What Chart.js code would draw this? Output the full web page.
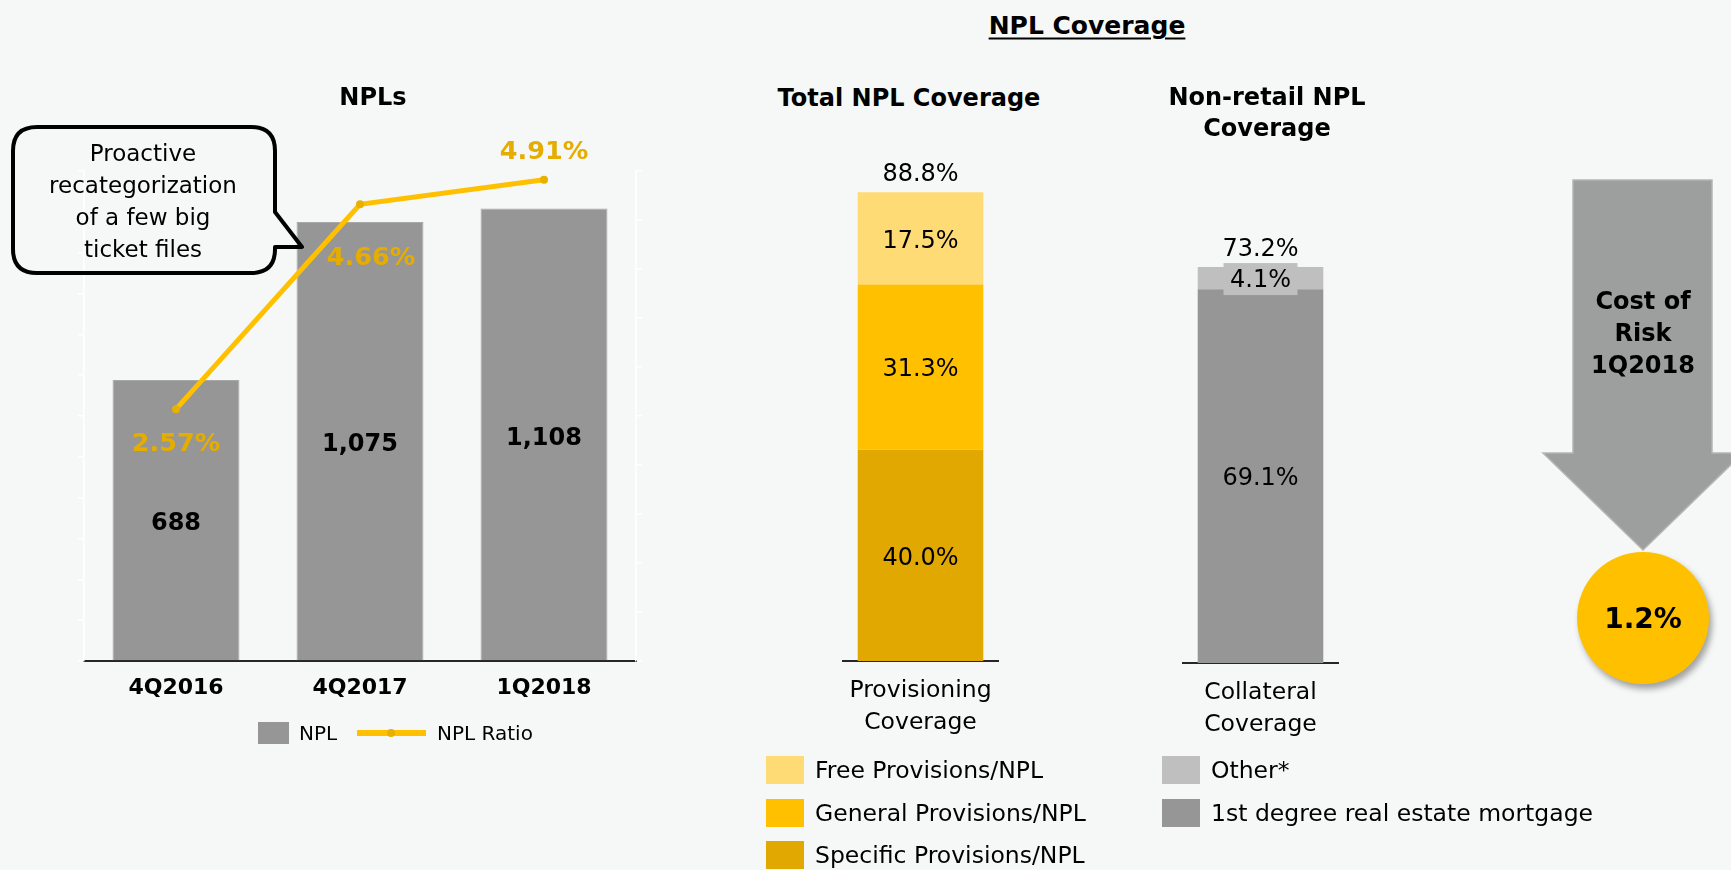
<!DOCTYPE html>
<html lang="en">
<head>
<meta charset="UTF-8" />
<title>NPLs and NPL Coverage</title>
<script src="https://cdn.jsdelivr.net/npm/chart.js@4.4.1/dist/chart.umd.min.js"></script>
<style>
  body { margin: 0; background: #f6f8f7; font-family: 'DejaVu Sans', sans-serif; color: #000; }
  #page { position: relative; width: 1731px; height: 870px; overflow: hidden; }
  canvas { position: absolute; }
  .t { position: absolute; transform: translate(-50%, -50%); white-space: nowrap; text-align: center; }
  .b { font-weight: bold; }
  .lg { position: absolute; display: flex; align-items: center; white-space: nowrap; }
  .sw { display: inline-block; }
  #overlay { position: absolute; left: 0; top: 0; pointer-events: none; }
</style>
</head>
<body>
<div id="page">
  <canvas id="npl" width="700" height="700" style="left:0;top:0"></canvas>
  <canvas id="total" width="157" height="620" style="left:842px;top:120px"></canvas>
  <canvas id="nonretail" width="157" height="630" style="left:1182px;top:110px"></canvas>

  <div class="t b" style="left:373px;top:97px;font-size:24px">NPLs</div>
  <div class="t b" style="left:1087px;top:25px;font-size:25px;text-decoration:underline;text-decoration-thickness:2px;text-underline-offset:4px">NPL Coverage</div>
  <div class="t b" style="left:909px;top:98px;font-size:24px">Total NPL Coverage</div>
  <div class="t b" style="left:1267px;top:113px;font-size:24px;line-height:31px">Non-retail NPL<br>Coverage</div>

  <svg id="overlay" width="1731" height="870">
    <!-- speech bubble -->
    <path d="M37 127 H251 Q275 127 275 151 V212 L302 247 L275 247 V249 Q275 273 251 273 H37 Q13 273 13 249 V151 Q13 127 37 127 Z"
          fill="none" stroke="#000" stroke-width="4" stroke-linejoin="round" />
    <!-- cost of risk arrow -->
    <polygon points="1573,180 1712,180 1712,453 1743,453 1643,550 1543,453 1573,453"
             fill="#9d9e9e" stroke="#b4b5b5" stroke-width="1.5" />
  </svg>
  <div class="t" style="left:143px;top:201px;font-size:23px;line-height:32px">Proactive<br>recategorization<br>of a few big<br>ticket files</div>

  <div class="t b" style="left:1643px;top:333px;font-size:24px;line-height:32px">Cost of<br>Risk<br>1Q2018</div>
  <div style="position:absolute;left:1577px;top:552px;width:132px;height:132px;border-radius:50%;background:#ffc000;box-shadow:3px 5px 6px rgba(0,0,0,0.35)"></div>
  <div class="t b" style="left:1643px;top:618px;font-size:28px">1.2%</div>

  <div id="legends"></div>
</div>

<script>
  // NPL stock (EUR m) and NPL ratio by quarter
  const quarters = ['4Q2016', '4Q2017', '1Q2018']
  const nplAmounts = [688, 1075, 1108]
  const nplRatios = [2.57, 4.66, 4.91]

  // total NPL coverage, split by provision type (%)
  const provisionCategory = [['Provisioning', 'Coverage']]
  const specificProvisions = [40.0]
  const generalProvisions = [31.3]
  const freeProvisions = [17.5]

  // non-retail NPL coverage by collateral (%)
  const collateralCategory = [['Collateral', 'Coverage']]
  const realEstateMortgage = [69.1]
  const otherCollateral = [4.1]

  const GOLD_TEXT = '#e6ac00'
  Chart.defaults.font.family = "'DejaVu Sans', sans-serif"
  Chart.defaults.color = '#000'

  // numbers written on the NPL bars and the ratio line
  const ratioOffsets = [[0, 35], [11, 54], [0, -27]]
  const nplLabels = {
    id: 'nplLabels',
    afterDatasetsDraw(chart) {
      const ctx = chart.ctx
      ctx.save()
      ctx.textAlign = 'center'
      ctx.textBaseline = 'middle'
      ctx.font = "bold 24px 'DejaVu Sans'"
      ctx.fillStyle = '#000'
      chart.getDatasetMeta(0).data.forEach((bar, i) => {
        ctx.fillText(nplAmounts[i].toLocaleString('en-US'), bar.x, (bar.y + bar.base) / 2 + 4)
      })
      ctx.font = "bold 25.5px 'DejaVu Sans'"
      ctx.fillStyle = GOLD_TEXT
      chart.getDatasetMeta(1).data.forEach((pt, i) => {
        const [dx, dy] = ratioOffsets[i]
        ctx.fillText(nplRatios[i].toFixed(2) + '%', pt.x + dx, pt.y + dy)
      })
      ctx.restore()
    },
  }

  // percentages inside each stacked segment, plus the total above the stack
  const stackLabels = {
    id: 'stackLabels',
    afterDatasetsDraw(chart) {
      const ctx = chart.ctx
      ctx.save()
      ctx.textAlign = 'center'
      ctx.textBaseline = 'middle'
      ctx.font = "24px 'DejaVu Sans'"
      let top = null
      let total = 0
      chart.data.datasets.forEach((ds, di) => {
        const el = chart.getDatasetMeta(di).data[0]
        const text = ds.data[0].toFixed(1) + '%'
        const y = (el.y + el.base) / 2 + 3
        total += ds.data[0]
        top = el.y
        if (ds.labelBg) {
          const w = ctx.measureText(text).width + 13
          ctx.fillStyle = ds.labelBg
          ctx.fillRect(el.x - w / 2, y - 18, w, 32)
        }
        ctx.fillStyle = '#000'
        ctx.fillText(text, el.x, y)
      })
      ctx.fillText(total.toFixed(1) + '%', chart.getDatasetMeta(0).data[0].x, top - 17)
      ctx.restore()
    },
  }

  const faintAxis = (min, max, step, width) => ({
    min: min,
    max: max,
    ticks: { stepSize: step, display: false },
    grid: { drawOnChartArea: false, color: '#ffffff', tickLength: 6, lineWidth: 1.5 },
    border: { color: '#ffffff', width: 1.5 },
    afterFit: (s) => { s.width = width },
  })

  new Chart(document.getElementById('npl'), {
    type: 'bar',
    data: {
      labels: quarters,
      datasets: [
        {
          type: 'bar',
          label: 'NPL',
          data: nplAmounts,
          backgroundColor: '#969696',
          borderColor: '#a8a8a8',
          borderWidth: 1,
          barPercentage: 0.69,
          categoryPercentage: 1,
          yAxisID: 'y',
          order: 2,
        },
        {
          type: 'line',
          label: 'NPL Ratio',
          data: nplRatios,
          borderColor: '#ffc000',
          borderWidth: 5,
          pointRadius: 4,
          pointBackgroundColor: '#e8b000',
          pointBorderWidth: 0,
          yAxisID: 'y1',
          order: 1,
        },
      ],
    },
    options: {
      responsive: false,
      animation: false,
      layout: { padding: { top: 171 } },
      plugins: { legend: { display: false }, tooltip: { enabled: false } },
      scales: {
        x: {
          grid: { display: false },
          border: { color: '#262626', width: 2 },
          ticks: { font: { size: 22, weight: 'bold' }, padding: 6 },
          afterFit: (s) => { s.height = 39 },
        },
        y: faintAxis(0, 1200, 100, 84),
        y1: Object.assign(faintAxis(0, 5, 0.5, 64), { position: 'right' }),
      },
    },
    plugins: [nplLabels],
  })

  const coverageOptions = (padTop, axisHeight) => ({
    responsive: false,
    animation: false,
    layout: { padding: { top: padTop } },
    plugins: { legend: { display: false }, tooltip: { enabled: false } },
    scales: {
      x: {
        stacked: true,
        grid: { display: false, drawTicks: false },
        border: { color: '#262626', width: 2 },
        ticks: { font: { size: 23.5, lineHeight: 1.36 }, padding: 14, maxRotation: 0 },
        afterFit: (s) => {
          s.height = axisHeight
          s.paddingLeft = 0
          s.paddingRight = 0
        },
      },
      y: { stacked: true, display: false, min: 0, max: 100 },
    },
  })

  const segment = (label, data, color, extra) =>
    Object.assign({ label: label, data: data, backgroundColor: color, barPercentage: 0.8, categoryPercentage: 1 }, extra || {})

  const provisionSets = [
    segment('Specific Provisions/NPL', specificProvisions, '#e0a800'),
    segment('General Provisions/NPL', generalProvisions, '#ffc000'),
    segment('Free Provisions/NPL', freeProvisions, '#ffdb76'),
  ]
  const collateralSets = [
    segment('1st degree real estate mortgage', realEstateMortgage, '#969696'),
    segment('Other*', otherCollateral, '#bfbfbf', { labelBg: '#bfbfbf' }),
  ]

  new Chart(document.getElementById('total'), {
    type: 'bar',
    data: { labels: provisionCategory, datasets: provisionSets },
    options: coverageOptions(13, 79),
    plugins: [stackLabels],
  })

  new Chart(document.getElementById('nonretail'), {
    type: 'bar',
    data: { labels: collateralCategory, datasets: collateralSets },
    options: coverageOptions(12, 77),
    plugins: [stackLabels],
  })

  // legends, built as plain html
  const legends = document.getElementById('legends')
  const addItem = (x, y, swatch, text, size) => {
    const d = document.createElement('div')
    d.className = 'lg'
    d.style.left = x + 'px'
    d.style.top = y - 20 + 'px'
    d.style.height = '40px'
    d.style.fontSize = size + 'px'
    d.appendChild(swatch)
    const s = document.createElement('span')
    s.textContent = text
    d.appendChild(s)
    legends.appendChild(d)
  }
  const box = (w, h, color, gap) => {
    const b = document.createElement('span')
    b.className = 'sw'
    b.style.cssText = `width:${w}px;height:${h}px;background:${color};margin-right:${gap}px`
    return b
  }
  const lineSwatch = () => {
    const l = document.createElement('span')
    l.className = 'sw'
    l.style.cssText = 'position:relative;width:69px;height:6px;background:#ffc000;margin-right:11px'
    const dot = document.createElement('span')
    dot.style.cssText = 'position:absolute;left:30px;top:-1px;width:8px;height:8px;border-radius:50%;background:#e8b000'
    l.appendChild(dot)
    return l
  }

  addItem(258, 733, box(31, 22, '#969696', 10), 'NPL', 20)
  addItem(357, 733, lineSwatch(), 'NPL Ratio', 20)

  const rowY = [770, 813, 855]
  provisionSets.slice().reverse().forEach((ds, i) => {
    addItem(766, rowY[i], box(38, 28, ds.backgroundColor, 11), ds.label, 23.5)
  })
  collateralSets.slice().reverse().forEach((ds, i) => {
    addItem(1162, rowY[i], box(38, 28, ds.backgroundColor, 11), ds.label, 23.5)
  })
</script>
</body>
</html>
